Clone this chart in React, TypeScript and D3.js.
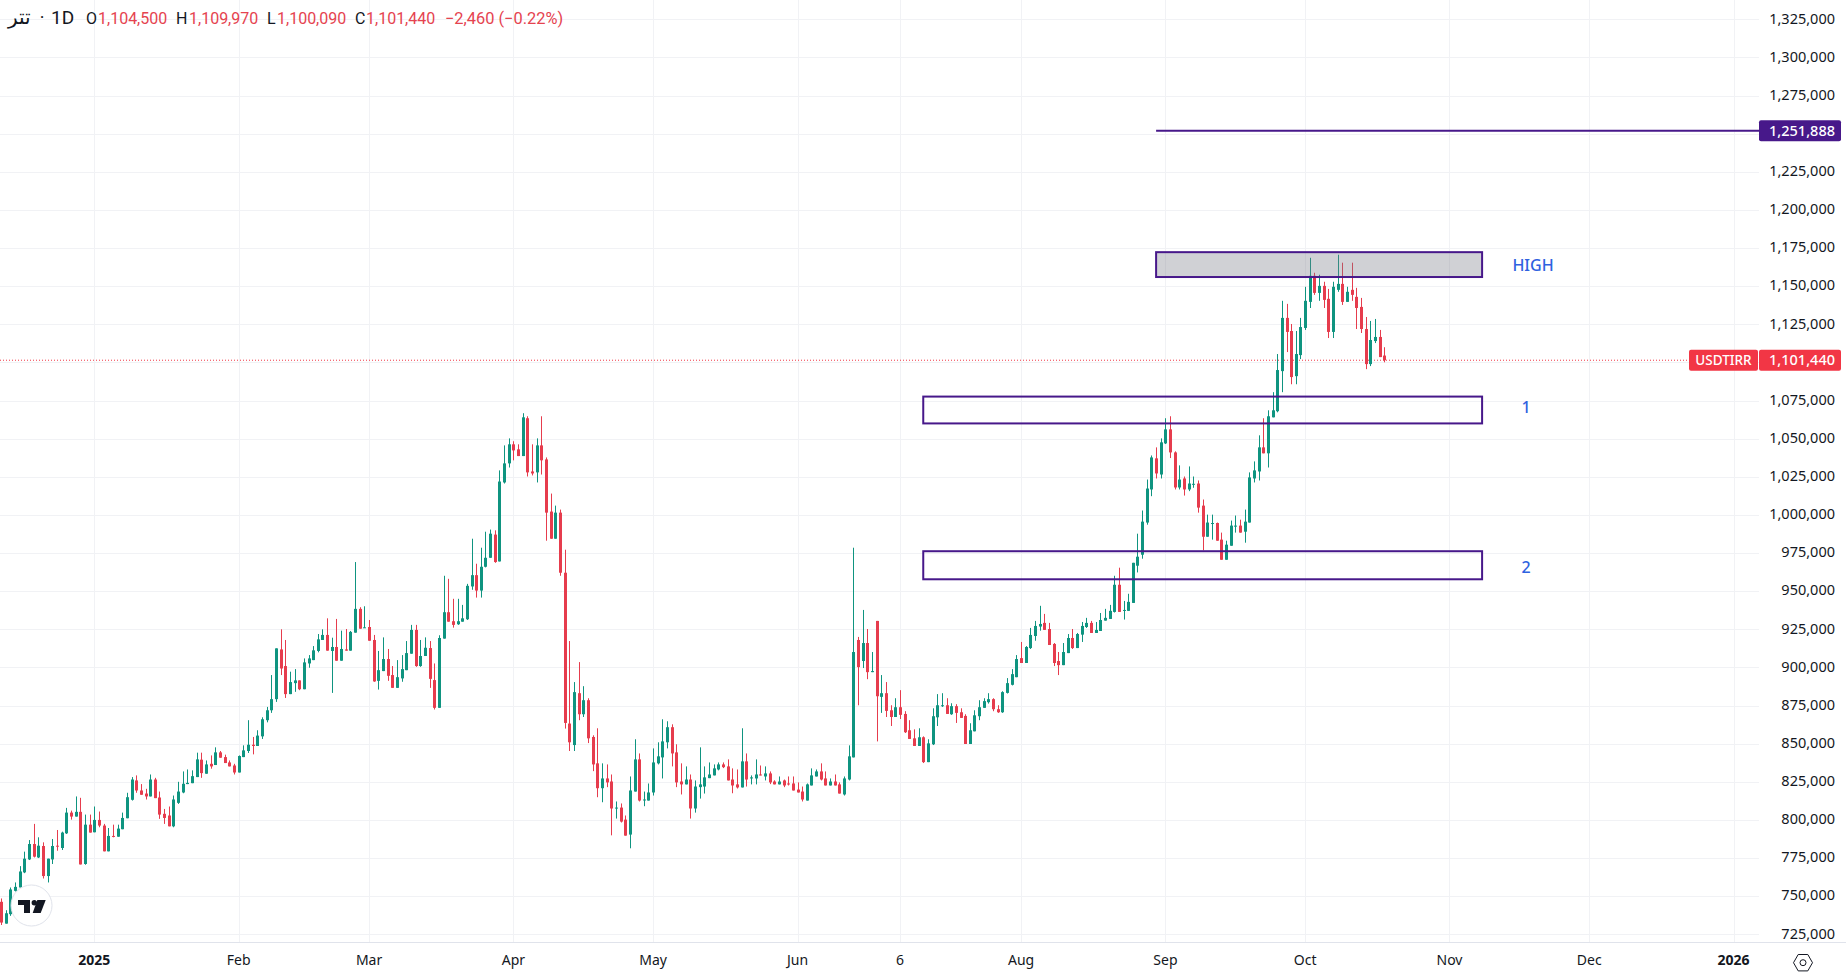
import * as d3 from 'd3'

// all prices in thousands of rial, one entry per daily bar. bar 0 is 1 Jan 2025, first visible bar is -20
const firstBar = -20

const opens = [
  746.3,732.0,738.2,753.5,755.7,765.6,774.1,784.2,775.4,782.9,
  763.2,774.1,783.1,781.6,791.2,804.8,802.2,805.3,771.1,796.9,
  791.9,800.0,796.3,779.4,789.5,789.0,793.9,801.1,813.2,825.9,
  819.3,817.3,815.4,826.5,814.7,804.0,802.9,795.8,811.2,818.0,
  823.5,824.1,828.1,839.5,830.3,836.8,836.0,844.3,841.2,837.7,
  835.7,831.1,841.2,845.2,849.3,848.5,854.8,865.4,871.9,879.2,
  911.8,900.9,882.5,889.7,891.5,885.7,902.6,904.8,910.8,918.0,
  921.3,910.8,913.4,904.4,911.8,911.0,922.8,938.4,925.9,926.5,
  918.0,891.2,897.6,905.5,895.0,886.6,892.8,898.2,909.0,924.6,
  900.9,907.5,912.7,891.7,873.5,918.9,936.2,930.3,928.3,930.0,
  931.6,953.1,960.5,950.4,966.0,971.9,987.1,969.5,1021.3,1033.8,
  1046.3,1043.0,1038.6,1063.4,1028.5,1027.9,1045.6,1036.4,1002.2,984.4,
  1001.5,962.1,863.2,849.1,883.1,869.3,878.5,854.4,837.1,820.8,
  827.2,825.2,807.5,808.1,800.2,790.4,818.6,839.7,812.9,812.7,
  818.0,837.1,841.0,850.9,860.8,844.3,825.2,823.3,826.5,807.5,
  821.5,821.9,827.4,829.2,833.1,836.4,835.1,826.5,823.3,821.3,
  838.4,827.2,827.2,829.8,828.5,830.5,825.2,823.3,825.9,823.9,
  823.9,819.9,818.6,812.7,822.6,828.5,831.8,827.2,822.6,825.2,
  823.3,816.7,826.5,841.0,918.0,904.2,916.0,896.9,930.5,880.7,
  883.1,871.9,867.5,873.9,869.5,858.8,853.5,848.5,854.2,837.9,
  849.6,867.3,874.6,875.2,869.3,874.6,870.6,868.2,849.8,858.1,
  868.0,873.5,877.2,879.2,872.6,870.6,883.3,888.6,893.6,906.1,
  902.9,912.7,920.6,926.8,929.2,925.2,915.4,904.2,901.5,909.4,
  919.3,912.7,921.5,926.5,929.2,922.6,923.9,930.7,931.8,936.4,
  954.2,937.1,937.1,942.3,966.7,973.9,995.0,1016.7,1037.1,1026.5,
  1046.9,1056.1,1041.0,1018.0,1023.9,1016.7,1020.0,1020.6,1006.1,985.7,
  994.1,994.7,983.8,970.6,979.8,992.3,993.0,989.0,995.0,1023.9,
  1028.5,1044.3,1040.4,1064.0,1068.0,1094.3,1129.2,1120.6,1091.0,1104.8,
  1122.6,1139.7,1156.8,1145.6,1150.2,1141.7,1120.0,1147.6,1151.5,1139.7,
  1147.6,1143.0,1136.4,1121.9,1098.9,1114.0,1116.7,1104.5,
]

const highs = [
  748.5,740.8,755.7,759.0,769.7,779.2,786.8,797.4,788.6,785.3,
  774.6,787.5,793.4,792.3,807.9,806.1,815.4,814.5,803.5,803.5,
  808.8,805.5,797.4,794.7,796.9,796.9,804.8,817.8,828.1,829.2,
  823.5,820.4,829.8,827.6,818.6,807.2,808.8,816.0,825.0,831.8,
  833.1,832.5,844.1,844.1,839.0,842.3,847.6,845.2,842.8,839.0,
  836.8,842.3,848.9,865.4,854.4,858.8,867.3,874.1,895.0,912.5,
  925.0,918.0,897.2,898.9,891.5,905.9,908.1,914.0,921.9,925.0,
  932.2,919.5,931.8,924.1,925.2,923.9,969.1,939.5,940.1,931.1,
  921.3,910.8,919.7,912.1,900.9,904.8,908.1,917.3,927.9,927.9,
  918.0,919.7,917.3,902.6,921.1,960.1,958.1,945.0,945.0,941.0,
  954.8,984.4,968.0,978.5,989.0,990.4,989.9,1029.2,1045.6,1050.2,
  1048.3,1046.3,1066.7,1064.7,1046.3,1050.2,1064.7,1037.7,1014.0,1006.1,
  1003.5,977.2,917.3,890.4,903.5,887.7,879.8,855.5,860.1,837.1,
  836.4,829.8,812.1,810.8,802.9,828.5,852.9,843.6,818.6,823.9,
  846.9,850.9,866.0,864.7,862.7,849.6,837.1,835.1,829.8,825.9,
  847.6,835.1,837.7,836.4,837.7,837.7,839.7,833.8,833.1,860.1,
  843.6,829.2,839.7,835.7,835.1,831.8,826.0,828.5,826.5,828.5,
  828.5,824.6,821.9,823.9,833.8,833.1,837.1,831.8,827.2,829.8,
  824.6,828.5,848.9,978.5,920.0,937.7,925.2,910.1,930.5,895.0,
  890.4,875.2,879.8,885.1,871.3,865.4,859.4,860.1,854.8,852.9,
  873.2,882.5,883.1,879.8,876.5,875.9,873.2,869.3,863.4,871.9,
  878.5,879.8,883.1,879.8,875.2,884.4,893.0,898.9,908.1,916.7,
  914.0,925.9,930.5,940.4,935.1,929.2,916.0,910.1,916.0,921.9,
  925.2,922.6,929.8,932.5,930.5,929.8,935.7,938.4,941.0,960.1,
  965.4,943.6,948.3,968.6,987.7,1002.9,1023.2,1039.0,1044.3,1050.2,
  1063.4,1064.7,1041.7,1032.5,1025.2,1031.8,1025.2,1022.6,1010.1,1000.2,
  1000.2,995.0,988.4,983.1,996.3,999.6,996.9,1003.5,1027.9,1035.1,
  1052.2,1063.4,1068.6,1080.5,1105.5,1140.4,1138.4,1125.2,1120.6,1129.2,
  1149.6,1168.6,1158.8,1157.5,1152.9,1148.2,1152.9,1170.6,1165.4,1149.6,
  1165.4,1148.9,1142.3,1129.8,1127.2,1128.5,1121.3,1109.97,
]

const lows = [
  731.1,732.0,737.1,753.1,755.7,765.1,773.7,775.4,775.0,761.6,
  759.0,771.1,779.8,780.3,790.8,800.2,802.2,770.8,770.6,791.7,
  791.9,795.2,779.4,779.4,788.6,789.0,793.9,801.1,812.7,817.8,
  816.5,813.4,815.4,814.3,800.7,797.4,795.8,795.2,810.5,817.5,
  823.5,824.1,828.1,827.6,830.3,833.6,836.0,840.8,837.3,835.1,
  829.8,831.1,841.2,843.9,843.0,848.5,853.1,864.0,870.2,877.4,
  895.0,880.0,882.5,884.0,885.1,885.7,899.8,904.8,909.9,918.0,
  911.0,883.3,904.4,904.4,911.0,911.0,922.8,925.4,925.9,917.5,
  890.6,885.5,897.6,891.2,886.6,886.6,890.6,898.2,909.0,900.4,
  900.4,907.5,886.6,872.4,873.5,918.9,930.0,926.1,927.9,930.0,
  931.1,950.9,945.8,945.8,965.6,971.9,968.6,969.5,1020.6,1031.1,
  1035.8,1038.6,1038.6,1025.2,1025.9,1021.3,1026.5,983.1,984.4,984.4,
  960.1,859.9,845.2,845.2,865.4,867.5,850.4,832.0,814.9,811.6,
  821.5,789.9,800.9,798.3,789.7,781.4,818.6,812.1,809.0,812.7,
  816.0,836.4,827.2,846.9,835.1,821.5,816.7,823.3,800.9,804.8,
  814.0,817.3,827.4,829.2,832.5,834.0,825.9,817.5,820.6,821.3,
  821.9,823.3,823.3,829.2,825.9,823.5,823.3,823.3,821.5,822.6,
  819.3,818.0,812.1,812.7,822.6,828.5,825.9,822.6,822.6,822.6,
  817.3,816.0,825.9,841.0,875.2,899.6,892.3,896.9,851.5,870.2,
  867.5,861.6,867.5,866.2,857.0,853.1,848.5,848.5,837.3,837.9,
  849.1,861.6,874.1,869.5,868.9,863.6,866.9,849.8,849.8,858.1,
  865.4,873.5,876.3,871.3,870.2,870.2,882.9,888.2,893.6,902.9,
  902.9,912.1,917.5,924.1,924.6,914.7,900.9,895.0,901.5,909.4,
  912.1,912.7,916.7,925.9,922.6,922.6,923.9,930.7,931.8,936.0,
  936.4,931.4,937.1,942.3,962.3,971.3,993.6,1012.3,1023.9,1023.9,
  1046.5,1037.3,1016.7,1016.7,1012.7,1015.6,1017.8,1001.5,976.8,985.7,
  983.8,983.1,970.6,970.6,979.8,988.4,988.4,981.8,995.0,1021.3,
  1022.6,1040.4,1031.1,1064.0,1067.3,1080.5,1106.8,1085.7,1085.7,1102.2,
  1121.3,1135.7,1144.3,1140.4,1135.7,1116.0,1116.0,1146.3,1137.7,1139.7,
  1140.4,1121.9,1119.3,1095.6,1097.6,1112.7,1103.5,1100.09,
]

const closes = [
  732.7,738.8,754.4,756.1,766.2,774.6,784.2,775.9,783.1,763.2,
  774.6,782.9,782.5,791.7,804.8,802.2,805.3,770.8,796.9,791.7,
  800.0,796.3,779.4,789.5,789.0,794.3,801.3,814.9,826.5,819.3,
  816.5,815.4,826.5,814.3,803.5,801.3,795.8,813.4,818.6,823.7,
  824.3,828.7,839.7,830.7,836.4,835.1,844.3,840.8,837.3,835.1,
  831.1,841.9,845.6,849.3,848.5,855.3,866.0,871.9,879.2,912.5,
  899.3,882.5,890.4,891.5,885.7,903.3,905.9,911.2,918.4,921.3,
  911.0,913.4,904.4,912.1,911.0,923.3,938.4,925.4,926.3,917.5,
  890.8,898.2,905.5,894.5,886.6,893.6,898.9,909.4,924.6,900.9,
  907.5,912.9,892.5,873.5,919.3,936.2,930.0,927.9,930.3,932.2,
  953.5,960.5,950.4,966.0,971.9,987.7,969.1,1021.9,1033.8,1046.3,
  1042.3,1038.6,1064.0,1027.9,1027.2,1045.6,1035.8,1001.5,984.4,1001.5,
  962.1,863.6,850.9,883.8,869.3,878.5,853.5,836.4,820.8,827.2,
  824.6,807.5,808.1,798.9,789.7,819.3,839.7,812.7,813.4,818.0,
  837.7,841.7,851.5,860.8,843.6,824.6,823.3,826.5,807.5,821.9,
  823.3,827.9,829.8,833.8,836.4,834.6,825.9,822.6,821.3,838.4,
  826.5,827.9,829.8,829.2,830.5,824.6,823.3,825.2,822.6,823.3,
  819.3,818.0,813.4,823.3,829.2,831.8,826.5,822.6,825.2,822.6,
  817.3,827.2,841.7,910.1,900.2,916.0,896.9,897.6,881.1,883.1,
  871.5,867.5,873.9,868.9,857.5,853.1,848.5,854.2,837.9,850.2,
  868.0,875.2,875.2,869.5,874.6,870.2,866.9,849.8,858.8,868.6,
  873.9,877.9,879.2,872.6,870.6,883.8,889.7,895.6,905.5,902.9,
  913.4,921.3,927.2,928.5,924.6,914.7,902.9,901.5,910.1,919.3,
  912.7,921.9,927.2,929.2,922.6,924.6,931.1,932.5,937.1,954.2,
  936.4,937.7,943.0,968.6,972.6,995.6,1017.3,1037.7,1027.2,1047.6,
  1056.1,1041.0,1018.0,1023.2,1016.7,1020.6,1020.4,1004.8,985.7,995.0,
  994.7,983.1,970.6,980.5,993.0,993.0,988.4,995.6,1024.6,1029.2,
  1044.3,1040.4,1064.7,1068.6,1095.0,1129.2,1120.0,1090.4,1105.5,1123.2,
  1140.4,1156.8,1145.6,1150.2,1141.0,1120.0,1149.6,1151.5,1139.7,1146.3,
  1144.3,1135.7,1121.9,1098.9,1114.7,1116.7,1103.5,1101.44,
]

const timeLabels = ['2025', 'Feb', 'Mar', 'Apr', 'May', 'Jun', '6', 'Aug', 'Sep', 'Oct', 'Nov', 'Dec', '2026']
const timeBars = [0, 31, 59, 90, 120, 151, 173, 199, 230, 260, 291, 321, 352]
const boldLabels = ['2025', '2026']

const priceTicks = d3.range(725, 1326, 25)

// drawings on the chart
const zoneNames = ['HIGH', '1', '2']
const zoneTops = [1172.3, 1077.6, 976.2]
const zoneBottoms = [1156.0, 1060.0, 957.8]
const zoneStarts = [228, 178, 178]
const zoneEnd = 298
const zoneLabelPrices = [1163.9, 1070.9, 965.4]
const targetPrice = 1251.888
const targetStart = 228
const lastPrice = 1101.44

const width = 1846
const height = 973
const paneRight = 1759
const paneBottom = 942

const up = '#0f9480'
const down = '#e63c4d'
const tagRed = '#f23645'
const headRed = '#e5434f'
const purple = '#47188a'
const blue = '#2f62e0'
const gridColor = '#f1f2f5'
const textColor = '#131722'
const axisFont = '"Noto Sans", sans-serif'
const headFont = 'Roboto, sans-serif'

const x = d3.scaleLinear().domain([0, 277]).range([94.3, 1384.3])
const y = d3.scaleLinear().domain([725, 1325]).range([934.3, 19.3])
const fmt = d3.format(',')
const money = (v: number) => fmt(Math.round(v * 1000))

const bars = opens.map((o, k) => ({
  bar: firstBar + k,
  o,
  h: highs[k],
  l: lows[k],
  c: closes[k],
}))

function Candles() {
  return (
    <g>
      {bars.map((d) => {
        const color = d.c >= d.o ? up : down
        const cx = Math.round(x(d.bar))
        const top = y(Math.max(d.o, d.c))
        const bottom = y(Math.min(d.o, d.c))
        return (
          <g key={d.bar} fill={color}>
            <rect x={cx} y={y(d.h)} width={1} height={y(d.l) - y(d.h)} />
            <rect x={cx - 1} y={top} width={3} height={Math.max(1, bottom - top)} />
          </g>
        )
      })}
    </g>
  )
}

function Zones() {
  return (
    <g>
      {zoneNames.map((name, k) => {
        const yTop = y(zoneTops[k])
        const yBottom = y(zoneBottoms[k])
        const x0 = x(zoneStarts[k])
        const x1 = x(zoneEnd)
        const filled = name === 'HIGH'
        return (
          <g key={name}>
            <rect
              x={x0}
              y={yTop}
              width={x1 - x0}
              height={yBottom - yTop}
              fill={filled ? 'rgba(120,123,134,0.35)' : 'none'}
              stroke={purple}
              strokeWidth={2}
            />
            <text
              x={filled ? 1533 : 1526}
              y={y(zoneLabelPrices[k])}
              dy="0.36em"
              textAnchor="middle"
              fontFamily='"Noto Sans", sans-serif'
              fontSize={16}
              fontWeight={500}
              fill={blue}
            >
              {name}
            </text>
          </g>
        )
      })}
      <line x1={x(targetStart)} x2={paneRight} y1={y(targetPrice)} y2={y(targetPrice)} stroke={purple} strokeWidth={2} />
    </g>
  )
}

function Header() {
  const parts = [
    { label: 'O', lx: 86, value: money(opens[opens.length - 1]), vx: 98 },
    { label: 'H', lx: 176, value: money(highs[highs.length - 1]), vx: 189 },
    { label: 'L', lx: 267, value: money(lows[lows.length - 1]), vx: 277 },
    { label: 'C', lx: 355, value: money(closes[closes.length - 1]), vx: 366 },
  ]
  return (
    <g fontFamily={headFont} fontSize={16}>
      <text x={8} y={24} fontFamily='"DejaVu Sans", sans-serif' fontSize={20} fill={textColor} direction="rtl" style={{ unicodeBidi: 'plaintext' }} textAnchor="end">
        تتر
      </text>
      <text x={42} y={24} fontSize={18} fill={textColor} textAnchor="middle">·</text>
      <text x={51} y={24} fontSize={19} fill={textColor}>1D</text>
      {parts.map((p) => (
        <g key={p.label}>
          <text x={p.lx} y={24} fill={textColor}>{p.label}</text>
          <text x={p.vx} y={24} fill={headRed}>{p.value}</text>
        </g>
      ))}
      <text x={445} y={24} fill={headRed} fontSize={16.4}>−2,460 (−0.22%)</text>
    </g>
  )
}

function PriceAxis() {
  return (
    <g fontFamily={axisFont} fontSize={14.5}>
      {priceTicks.map((t) => (
        <text key={t} x={1835} y={y(t) - 1} dy="0.36em" textAnchor="end" fill={textColor}>
          {money(t)}
        </text>
      ))}
      <rect x={paneRight} y={y(targetPrice) - 10.5} width={82} height={21} rx={2} fill={purple} />
      <text x={1835} y={y(targetPrice)} dy="0.36em" textAnchor="end" fill="#fff" fontWeight={500}>
        {money(targetPrice)}
      </text>
      <rect x={1689} y={y(lastPrice) - 10.5} width={69} height={21} rx={2} fill={tagRed} />
      <text x={1723.5} y={y(lastPrice)} dy="0.36em" textAnchor="middle" fill="#fff" fontSize={13.5} fontWeight={500}>
        USDTIRR
      </text>
      <rect x={paneRight} y={y(lastPrice) - 10.5} width={82} height={21} rx={2} fill={tagRed} />
      <text x={1835} y={y(lastPrice)} dy="0.36em" textAnchor="end" fill="#fff" fontWeight={500}>
        {money(lastPrice)}
      </text>
    </g>
  )
}

function TimeAxis() {
  return (
    <g fontFamily={axisFont} fontSize={14}>
      <line x1={0} x2={width} y1={paneBottom + 0.5} y2={paneBottom + 0.5} stroke="#e0e3eb" />
      {timeLabels.map((t, k) => (
        <text
          key={t}
          x={x(timeBars[k])}
          y={960}
          dy="0.36em"
          textAnchor="middle"
          fill={textColor}
          fontWeight={boldLabels.includes(t) ? 700 : 400}
        >
          {t}
        </text>
      ))}
    </g>
  )
}

export default function App() {
  const yLast = y(lastPrice)
  return (
    <svg width={width} height={height} style={{ position: 'absolute', left: 0, top: 0, display: 'block', background: '#fff' }}>
      <g stroke={gridColor}>
        {priceTicks.map((t) => (
          <line key={t} x1={0} x2={paneRight} y1={Math.round(y(t)) + 0.5} y2={Math.round(y(t)) + 0.5} />
        ))}
        {timeBars.map((b) => (
          <line key={b} x1={Math.round(x(b)) + 0.5} x2={Math.round(x(b)) + 0.5} y1={0} y2={paneBottom} />
        ))}
      </g>
      <line x1={0} x2={1689} y1={yLast} y2={yLast} stroke={tagRed} strokeDasharray="1 2" />
      <Candles />
      <Zones />
      <Header />
      <PriceAxis />
      <TimeAxis />
      {/* tv logo */}
      <circle cx={31.5} cy={905.5} r={20.5} fill="#fff" stroke="#e0e3eb" strokeWidth={1} />
      <g fill="#131722">
        <path d="M18 900H30V913H24V905H18Z" />
        <circle cx={34.3} cy={902.7} r={2.7} />
        <path d="M37.3 900H45.7L40.7 913H32.7Z" />
      </g>
      {/* settings icon */}
      <g fill="none" stroke={textColor} strokeWidth={1}>
        <polygon points="1793.5,962.7 1798.2,954.5 1807.8,954.5 1812.5,962.7 1807.8,970.9 1798.2,970.9" />
        <circle cx={1803} cy={962.7} r={3} />
      </g>
    </svg>
  )
}
